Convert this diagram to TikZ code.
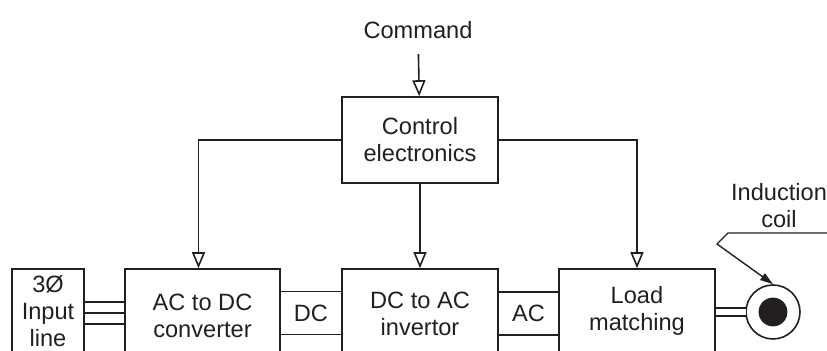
\documentclass[tikz,border=0pt]{standalone}
\usepackage{fontspec}
\setmainfont{Liberation Sans}
\usepackage{xcolor}
\definecolor{cInk}{HTML}{231F20}
\usepackage{tikz}
\usetikzlibrary{positioning,arrows.meta}
\tikzset{
  node-box/.style={draw=cInk,line width=0.8pt,align=center,text=cInk,
    font=\fontsize{11.8}{13.5}\selectfont,inner sep=0pt},
  node-tag/.style={align=center,text=cInk,inner sep=0pt,
    font=\fontsize{11.8}{13.5}\selectfont},
  node-coil/.style={draw=cInk,line width=0.8pt,circle,minimum size=27pt,inner sep=0pt},
  wire/.style={draw=cInk,line width=0.8pt},
  wire-pair/.style={draw=cInk,line width=0.8pt,double=white,double distance=3pt},
  arrow-ctl/.style={-{Triangle[open,length=8pt,width=6.5pt]},line width=0.8pt,draw=cInk},
  arrow-lead/.style={-{Triangle[length=6.5pt,width=4pt]},line width=0.7pt,draw=cInk},
}

\begin{document}
\begin{tikzpicture}[x=0.5pt,y=-0.5pt]
  \useasboundingbox (0,0) rectangle (827,351);
  \clip (0,0) rectangle (827,351);
  % control path
  \node[node-tag] (cmd) at (418,30) {Command};
  \node[node-box,minimum width=78pt,minimum height=43pt] (ctrl) at (420,140) {Control\\electronics};
  % power path (boxes run past the lower edge)
  \node[node-box,minimum width=36pt,minimum height=42pt] (inp) at (48,311) {3Ø\\Input\\line};
  \node[node-box,minimum width=77.5pt,minimum height=47pt] (acdc) at (202.5,316) {AC to DC\\converter};
  \node[node-box,minimum width=78pt,minimum height=45pt] (dcac) at (420,314) {DC to AC\\invertor};
  \node[node-box,minimum width=78pt,minimum height=42pt] (load) at (637,311) {Load\\matching};
  \node[node-tag,minimum height=21pt] (dc) at (311,313) {DC};
  \node[node-tag,minimum height=21pt] (ac) at (528.5,313.5) {AC};
  \node[node-coil] (coil) at (773,312) {};
  \node[node-tag] (coil-lbl) at (779,206) {Induction\\coil};
  \coordinate (coil-tag) at (830,233);

  \draw[arrow-ctl,shorten <=7.5pt] (cmd) -- (ctrl);
  \draw[arrow-ctl] (ctrl.west) -| ([xshift=-2pt]acdc.north);
  \draw[arrow-ctl] (ctrl) -- (dcac);
  \draw[arrow-ctl] (ctrl.east) -| (load.north);

  \foreach \y in {302,313,324}
    \draw[wire] (inp.east |- 0,\y) -- (acdc.west |- 0,\y);
  \draw[wire] (acdc.east |- dc.north) -- (dcac.west |- dc.north);
  \draw[wire] (acdc.east |- dc.south) -- (dcac.west |- dc.south);
  \draw[wire] (dcac.east |- ac.north) -- (load.west |- ac.north);
  \draw[wire] (dcac.east |- ac.south) -- (load.west |- ac.south);

  \draw[wire-pair,shorten >=-0.6pt] (load.east |- coil) -- (coil.west);
  \fill[cInk] (coil) circle[radius=7.2pt];
  \draw[arrow-lead] (coil-tag) -- ++(-102,0) -- ++(-11,11) -- (coil.north);
\end{tikzpicture}
\end{document}
